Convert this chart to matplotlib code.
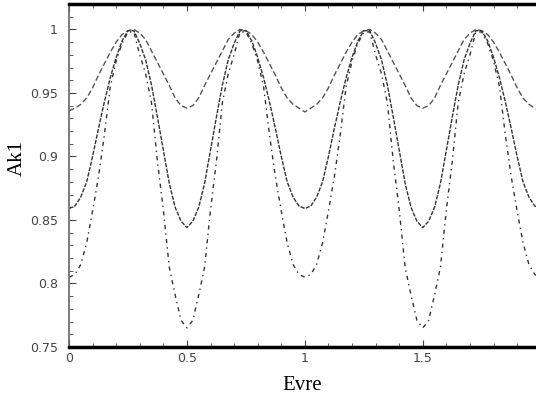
import matplotlib
matplotlib.use("Agg")

import matplotlib.pyplot as plt
import numpy as np
from matplotlib.ticker import MultipleLocator

# x grid (Evre), step 0.025 from 0 to 2
evre = np.arange(0, 2.0001, 0.025)

# upper curve (long dashes)
ak_dashed = [
    0.936, 0.938, 0.941, 0.946, 0.954, 0.964, 0.973, 0.982, 0.990, 0.996,
    0.999, 1.000, 0.997, 0.992, 0.983, 0.974, 0.965, 0.956, 0.946, 0.940,
    0.938, 0.940, 0.946, 0.956, 0.965, 0.974, 0.983, 0.992, 0.997, 1.000,
    0.999, 0.996, 0.990, 0.982, 0.973, 0.964, 0.954, 0.946, 0.941, 0.938,
    0.935, 0.938, 0.941, 0.946, 0.954, 0.964, 0.973, 0.982, 0.990, 0.996,
    0.999, 1.000, 0.997, 0.992, 0.983, 0.974, 0.965, 0.956, 0.946, 0.940,
    0.938, 0.940, 0.946, 0.956, 0.965, 0.974, 0.983, 0.992, 0.997, 1.000,
    0.999, 0.996, 0.990, 0.982, 0.973, 0.964, 0.954, 0.946, 0.941, 0.938,
    0.936,
]

# middle curve (dense dashes)
ak_middle = [
    0.859, 0.861, 0.868, 0.880, 0.900, 0.922, 0.943, 0.962, 0.978, 0.991,
    0.999, 0.999, 0.989, 0.976, 0.956, 0.931, 0.905, 0.879, 0.860, 0.849,
    0.844, 0.849, 0.860, 0.879, 0.905, 0.931, 0.956, 0.976, 0.989, 0.999,
    0.999, 0.991, 0.978, 0.962, 0.943, 0.922, 0.900, 0.880, 0.868, 0.861,
    0.859, 0.861, 0.868, 0.880, 0.900, 0.922, 0.943, 0.962, 0.978, 0.991,
    0.999, 0.999, 0.989, 0.976, 0.956, 0.931, 0.905, 0.879, 0.860, 0.849,
    0.844, 0.849, 0.860, 0.879, 0.905, 0.931, 0.956, 0.976, 0.989, 0.999,
    0.999, 0.991, 0.978, 0.962, 0.943, 0.922, 0.900, 0.880, 0.868, 0.861,
    0.859,
]

# lower curve (dash-dot)
ak_dotted = [
    0.805, 0.807, 0.815, 0.832, 0.857, 0.884, 0.917, 0.955, 0.975, 0.989,
    0.998, 0.998, 0.980, 0.965, 0.942, 0.896, 0.858, 0.813, 0.791, 0.771,
    0.765, 0.771, 0.791, 0.813, 0.858, 0.896, 0.942, 0.965, 0.980, 0.998,
    0.998, 0.989, 0.975, 0.955, 0.917, 0.884, 0.857, 0.832, 0.815, 0.807,
    0.805, 0.807, 0.815, 0.832, 0.857, 0.884, 0.917, 0.955, 0.975, 0.989,
    0.998, 0.998, 0.980, 0.965, 0.942, 0.896, 0.858, 0.813, 0.791, 0.771,
    0.765, 0.771, 0.791, 0.813, 0.858, 0.896, 0.942, 0.965, 0.980, 0.998,
    0.998, 0.989, 0.975, 0.955, 0.917, 0.884, 0.857, 0.832, 0.815, 0.807,
    0.805,
]

x_ticks = [0, 0.5, 1, 1.5]
x_ticklabels = ["0", "0.5", "1", "1.5"]
y_ticks = [0.75, 0.8, 0.85, 0.9, 0.95, 1]
y_ticklabels = ["0.75", "0.8", "0.85", "0.9", "0.95", "1"]

fig = plt.figure(figsize=(5.36, 3.98), dpi=100)
ax = fig.add_axes([69 / 536, 1 - 347 / 398, 1 - 69 / 536, 343 / 398])

ax.plot(evre, ak_dashed, color="#555555", linewidth=1.0, linestyle=(0, (4, 2)))
ax.plot(evre, ak_middle, color="#333333", linewidth=1.0, linestyle=(0, (3, 1)))
ax.plot(evre, ak_dotted, color="#333333", linewidth=1.0, linestyle=(0, (3, 3, 1, 3)))

ax.set_xlim(0, 1.98)
ax.set_ylim(0.75, 1.02)

ax.set_xticks(x_ticks)
ax.set_xticklabels(x_ticklabels)
ax.set_yticks(y_ticks)
ax.set_yticklabels(y_ticklabels)
ax.xaxis.set_minor_locator(MultipleLocator(0.1))
ax.yaxis.set_minor_locator(MultipleLocator(0.01))
ax.tick_params(which="both", direction="in", top=True, color="#444444",
               labelsize=9, labelcolor="#444444")
ax.tick_params(which="major", length=5)
ax.tick_params(which="minor", length=3)
ax.tick_params(axis="y", pad=8)

for side in ("top", "bottom"):
    ax.spines[side].set_linewidth(2.5)
    ax.spines[side].set_color("black")
ax.spines["left"].set_linewidth(1.2)
ax.spines["left"].set_color("#666666")
ax.spines["right"].set_visible(False)

ax.set_xlabel("Evre", family="Liberation Serif", fontsize=15, labelpad=8)
ax.set_ylabel("Ak1", family="Liberation Serif", fontsize=15)
ax.yaxis.set_label_coords(-0.09, 0.55)

fig.savefig("out.png", dpi=100)
plt.close(fig)
